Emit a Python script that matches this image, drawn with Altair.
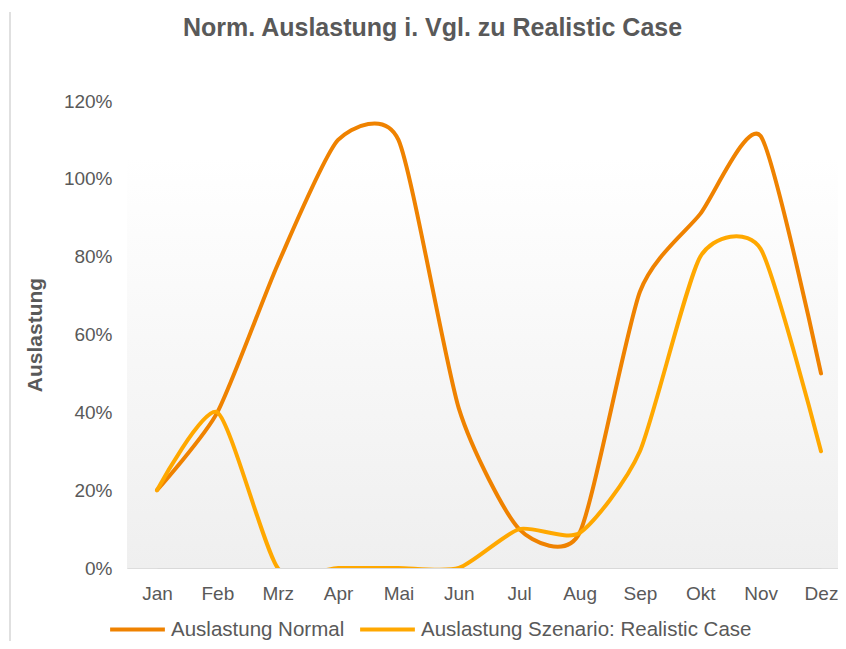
import altair as alt
import pandas as pd

months = ["Jan", "Feb", "Mrz", "Apr", "Mai", "Jun", "Jul", "Aug", "Sep", "Okt", "Nov", "Dez"]
normal = [0.20, 0.40, 0.78, 1.10, 1.10, 0.41, 0.10, 0.09, 0.71, 0.91, 1.11, 0.50]
scenario = [0.20, 0.40, 0.00, 0.00, 0.00, 0.00, 0.10, 0.09, 0.30, 0.80, 0.82, 0.30]
series_names = ["Auslastung Normal", "Auslastung Szenario: Realistic Case"]
series_colors = ["#EF8200", "#FFA800"]

rows = []
for name, vals in zip(series_names, [normal, scenario]):
    for m, v in zip(months, vals):
        rows.append({"Monat": m, "Wert": v, "Serie": name})
df = pd.DataFrame(rows)

W, H = 711, 467
TXT = "#595959"

bg = alt.Chart(alt.Data(values=[{}])).mark_rect(
    fill=alt.LinearGradient(
        gradient="linear", x1=0, y1=0, x2=0, y2=1,
        stops=[alt.GradientStop(color="#ffffff", offset=0),
               alt.GradientStop(color="#ffffff", offset=0.12),
               alt.GradientStop(color="#efefef", offset=1)],
    )
).encode(x=alt.value(0), x2=alt.value(W), y=alt.value(0), y2=alt.value(H))

border = alt.Chart(alt.Data(values=[{}])).mark_rule(color="#e0e0e0", strokeWidth=2).encode(
    x=alt.value(-117), y=alt.value(-89), y2=alt.value(H + 80)
)

lines = alt.Chart(df).mark_line(
    interpolate="cardinal", tension=0.35, strokeWidth=4, strokeCap="round", clip=True
).encode(
    x=alt.X("Monat:N", sort=months, scale=alt.Scale(type="point", range=[30, 694], padding=0),
            axis=alt.Axis(title=None, labelAngle=0, labelFontSize=19, labelColor=TXT,
                          labelPadding=16, ticks=False, domainColor="#d9d9d9", grid=False,
                          labelFont="Liberation Sans")),
    y=alt.Y("Wert:Q", scale=alt.Scale(domain=[0, 1.2], nice=False),
            axis=alt.Axis(title="Auslastung", values=[0, 0.2, 0.4, 0.6, 0.8, 1.0, 1.2], format=".0%",
                          labelFontSize=19, labelColor=TXT, labelPadding=15, ticks=False,
                          domain=False, grid=False, titleFontSize=21, titleColor=TXT,
                          titleFontWeight="bold", titleX=-92, titleY=H / 2, titleAngle=270,
                          titleAlign="center", titleBaseline="middle",
                          labelFont="Liberation Sans", titleFont="Liberation Sans")),
    color=alt.Color("Serie:N", sort=series_names,
                    scale=alt.Scale(domain=series_names, range=series_colors),
                    legend=alt.Legend(title=None, orient="none", legendX=-19, legendY=H + 32,
                                      direction="horizontal", symbolType="stroke",
                                      symbolSize=3000, symbolStrokeWidth=4, labelFontSize=20.5,
                                      labelColor=TXT, labelOffset=4, columnPadding=7,
                                      labelFont="Liberation Sans", labelLimit=0)),
    order=alt.Order("Serie:N"),
)

chart = alt.layer(bg, lines, border).properties(
    width=W, height=H,
    title=alt.TitleParams("Norm. Auslastung i. Vgl. zu Realistic Case", fontSize=25, fontWeight="bold",
                          color=TXT, font="Liberation Sans", offset=0, dy=30, dx=-50, anchor="middle"),
    autosize=alt.AutoSizeParams(type="none"),
    padding={"left": 119, "top": 93, "right": 0, "bottom": 73},
).configure_view(stroke=None).configure(font="Liberation Sans")

chart.save("out.html", embed_options={"renderer": "svg", "actions": False})
